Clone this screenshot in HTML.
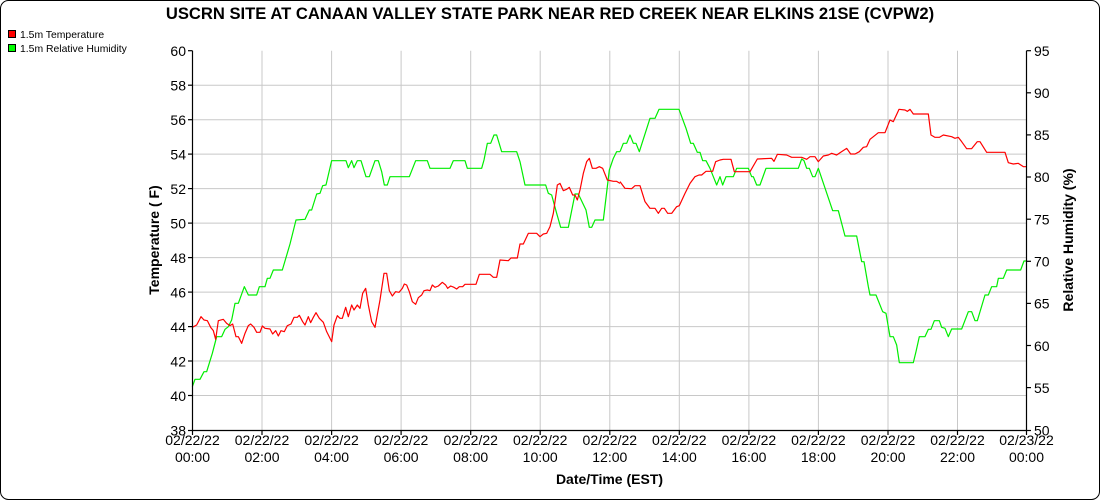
<!DOCTYPE html>
<html><head><meta charset="utf-8"><style>
html,body{margin:0;padding:0;background:#fff}
svg{display:block;font-family:"Liberation Sans",sans-serif}
</style></head><body>
<svg width="1100" height="500" viewBox="0 0 1100 500" xmlns="http://www.w3.org/2000/svg">
<rect x="0.5" y="0.5" width="1099" height="499" rx="8" fill="#fff" stroke="#000" stroke-width="1"/>
<text x="550" y="19" text-anchor="middle" font-size="16.6" font-weight="bold">USCRN SITE AT CANAAN VALLEY STATE PARK NEAR RED CREEK NEAR ELKINS 21SE (CVPW2)</text>
<rect x="8.5" y="30.5" width="7" height="7" fill="#f00" stroke="#000"/>
<text x="20" y="38" font-size="10.4">1.5m Temperature</text>
<rect x="8.5" y="44.5" width="7" height="7" fill="#0f0" stroke="#000"/>
<text x="20" y="52" font-size="10.4">1.5m Relative Humidity</text>
<g stroke="#c8c8c8" stroke-width="1">
<line x1="262" y1="50.7" x2="262" y2="430"/><line x1="331.6" y1="50.7" x2="331.6" y2="430"/><line x1="401.1" y1="50.7" x2="401.1" y2="430"/><line x1="470.7" y1="50.7" x2="470.7" y2="430"/><line x1="540.2" y1="50.7" x2="540.2" y2="430"/><line x1="609.8" y1="50.7" x2="609.8" y2="430"/><line x1="679.3" y1="50.7" x2="679.3" y2="430"/><line x1="748.9" y1="50.7" x2="748.9" y2="430"/><line x1="818.4" y1="50.7" x2="818.4" y2="430"/><line x1="888" y1="50.7" x2="888" y2="430"/><line x1="957.5" y1="50.7" x2="957.5" y2="430"/>
<line x1="192.5" y1="85.2" x2="1026.5" y2="85.2"/><line x1="192.5" y1="119.7" x2="1026.5" y2="119.7"/><line x1="192.5" y1="154.1" x2="1026.5" y2="154.1"/><line x1="192.5" y1="188.6" x2="1026.5" y2="188.6"/><line x1="192.5" y1="223.1" x2="1026.5" y2="223.1"/><line x1="192.5" y1="257.6" x2="1026.5" y2="257.6"/><line x1="192.5" y1="292.1" x2="1026.5" y2="292.1"/><line x1="192.5" y1="326.6" x2="1026.5" y2="326.6"/><line x1="192.5" y1="361" x2="1026.5" y2="361"/><line x1="192.5" y1="395.5" x2="1026.5" y2="395.5"/>
</g>
<g fill="none" stroke-width="1.2" stroke-linejoin="round">
<g transform="translate(180,40) scale(0.33333)">
<polyline vector-effect="non-scaling-stroke" stroke="#00ee00" points="37,1040 45,1018 60,1018 72,995 80,995 97,940 110,890 125,890 135,868 145,860 155,840 165,790 175,790 193,740 205,765 230,765 238,740 255,740 262,715 270,715 280,690 307,690 330,612 348,540 375,538 388,510 395,510 410,462 420,460 428,437 438,435 455,362 498,362 505,383 515,362 522,383 532,362 543,362 558,410 568,410 585,362 595,362 605,395 613,435 622,435 630,410 688,410 707,362 742,362 750,385 810,385 820,362 855,362 862,385 905,385 912,360 922,310 932,310 942,285 950,285 965,335 1010,335 1020,365 1035,435 1097,435 1105,460 1115,465 1130,520 1142,562 1165,562 1185,462 1195,462 1218,510 1228,562 1235,562 1245,540 1270,540 1288,390 1300,355 1310,335 1320,335"/>
<polyline vector-effect="non-scaling-stroke" stroke="#ff0000" points="37,862 50,855 63,830 72,840 82,842 92,862 100,872 107,898 115,842 130,838 140,850 150,857 158,852 168,890 175,890 185,910 195,880 205,857 212,852 222,862 230,877 240,877 247,858 255,865 270,867 278,882 287,872 295,888 303,872 313,875 322,857 333,852 342,832 352,832 358,826 368,845 375,855 385,830 392,848 400,832 408,818 418,835 430,847 440,875 455,905 462,855 472,827 480,835 487,835 497,802 505,830 515,795 522,810 532,795 540,805 548,760 557,745 565,795 575,845 585,862 600,780 612,700 620,700 628,752 637,768 647,755 657,757 667,745 673,732 680,735 688,755 697,785 707,793 715,773 725,765 732,752 742,750 750,752 757,735 765,742 775,738 787,727 797,735 803,745 812,738 822,742 830,747 838,740 848,740 855,733 870,733 888,733 898,703 930,703 940,712 950,712 960,660 985,662 993,654 1012,654 1020,612 1030,612 1045,580 1070,580 1080,590 1090,582 1100,580 1110,560 1120,520 1132,435 1140,430 1150,452 1160,448 1168,442 1178,465 1185,465 1192,480 1200,450 1210,400 1220,365 1228,355 1237,385 1248,385 1258,380 1268,385 1282,420 1300,424 1310,424 1320,430"/>
</g>
<g transform="translate(600,40) scale(0.33333)">
<polyline vector-effect="non-scaling-stroke" stroke="#00ee00" points="60,335 70,310 80,310 90,285 100,310 108,310 118,335 150,235 165,235 177,208 237,208 258,265 272,310 280,310 292,337 300,337 308,362 318,362 330,385 340,410 350,435 360,410 368,435 378,410 400,410 410,385 445,385 455,410 460,410 470,435 480,435 498,385 595,385 605,357 612,362 620,385 628,385 638,410 645,410 655,385 698,512 715,512 735,588 770,588 785,665 792,665 805,740 810,765 828,765 848,815 858,820 870,890 880,890 890,915 898,968 940,968 948,935 958,890 975,890 985,868 993,868 1003,842 1018,842 1025,862 1035,865 1045,890 1055,867 1085,867 1105,815 1115,815 1125,842 1132,842 1155,765 1165,765 1175,740 1190,740 1195,715 1210,715 1220,690 1262,690 1272,663 1279,663"/>
<polyline vector-effect="non-scaling-stroke" stroke="#ff0000" points="60,425 75,445 95,446 105,437 120,437 135,485 150,505 165,505 175,520 185,505 193,505 203,520 215,520 230,500 238,497 255,460 270,430 285,410 297,405 305,405 318,394 338,394 347,365 360,360 370,358 393,358 403,395 450,395 472,357 515,355 522,364 532,343 560,345 575,352 605,352 620,358 630,350 645,350 655,365 670,348 685,345 695,340 710,345 725,335 740,325 752,342 765,342 778,335 790,322 800,320 810,298 820,290 835,278 855,278 870,240 880,245 897,208 915,210 922,214 930,208 940,222 985,222 993,285 1005,292 1018,292 1030,285 1055,290 1065,295 1075,292 1085,305 1100,326 1115,326 1132,305 1140,305 1160,337 1215,337 1225,368 1240,372 1255,370 1270,380 1279,380"/>
</g>
</g>
<g stroke="#000" stroke-width="1.2" fill="none">
<polyline points="192.5,50.7 192.5,430.5 1026.5,430.5 1026.5,50.7"/>
<line x1="188" y1="50.7" x2="192.5" y2="50.7"/><line x1="188" y1="85.2" x2="192.5" y2="85.2"/><line x1="188" y1="119.7" x2="192.5" y2="119.7"/><line x1="188" y1="154.1" x2="192.5" y2="154.1"/><line x1="188" y1="188.6" x2="192.5" y2="188.6"/><line x1="188" y1="223.1" x2="192.5" y2="223.1"/><line x1="188" y1="257.6" x2="192.5" y2="257.6"/><line x1="188" y1="292.1" x2="192.5" y2="292.1"/><line x1="188" y1="326.6" x2="192.5" y2="326.6"/><line x1="188" y1="361" x2="192.5" y2="361"/><line x1="188" y1="395.5" x2="192.5" y2="395.5"/><line x1="188" y1="430.5" x2="192.5" y2="430.5"/>
<line x1="1026.5" y1="50.7" x2="1031" y2="50.7"/><line x1="1026.5" y1="92.8" x2="1031" y2="92.8"/><line x1="1026.5" y1="134.9" x2="1031" y2="134.9"/><line x1="1026.5" y1="177" x2="1031" y2="177"/><line x1="1026.5" y1="219.2" x2="1031" y2="219.2"/><line x1="1026.5" y1="261.3" x2="1031" y2="261.3"/><line x1="1026.5" y1="303.4" x2="1031" y2="303.4"/><line x1="1026.5" y1="345.5" x2="1031" y2="345.5"/><line x1="1026.5" y1="387.6" x2="1031" y2="387.6"/><line x1="1026.5" y1="430.5" x2="1031" y2="430.5"/>
<line x1="192.5" y1="430.5" x2="192.5" y2="435"/><line x1="262" y1="430.5" x2="262" y2="435"/><line x1="331.6" y1="430.5" x2="331.6" y2="435"/><line x1="401.1" y1="430.5" x2="401.1" y2="435"/><line x1="470.7" y1="430.5" x2="470.7" y2="435"/><line x1="540.2" y1="430.5" x2="540.2" y2="435"/><line x1="609.8" y1="430.5" x2="609.8" y2="435"/><line x1="679.3" y1="430.5" x2="679.3" y2="435"/><line x1="748.9" y1="430.5" x2="748.9" y2="435"/><line x1="818.4" y1="430.5" x2="818.4" y2="435"/><line x1="888" y1="430.5" x2="888" y2="435"/><line x1="957.5" y1="430.5" x2="957.5" y2="435"/><line x1="1026.5" y1="430.5" x2="1026.5" y2="435"/>
</g>
<g font-size="14" text-anchor="end">
<text x="186" y="56">60</text><text x="186" y="90.5">58</text><text x="186" y="125">56</text><text x="186" y="159.5">54</text><text x="186" y="194">52</text><text x="186" y="228.5">50</text><text x="186" y="263">48</text><text x="186" y="297.5">46</text><text x="186" y="332">44</text><text x="186" y="366.5">42</text><text x="186" y="401">40</text><text x="186" y="435.5">38</text>
</g>
<g font-size="14">
<text x="1034" y="56">95</text><text x="1034" y="98">90</text><text x="1034" y="140">85</text><text x="1034" y="182">80</text><text x="1034" y="224.5">75</text><text x="1034" y="266.5">70</text><text x="1034" y="308.5">65</text><text x="1034" y="351">60</text><text x="1034" y="393">55</text><text x="1034" y="435.5">50</text>
</g>
<g font-size="14" text-anchor="middle">
<text x="192.5" y="445">02/22/22</text><text x="192.5" y="462">00:00</text>
<text x="262" y="445">02/22/22</text><text x="262" y="462">02:00</text>
<text x="331.6" y="445">02/22/22</text><text x="331.6" y="462">04:00</text>
<text x="401.1" y="445">02/22/22</text><text x="401.1" y="462">06:00</text>
<text x="470.7" y="445">02/22/22</text><text x="470.7" y="462">08:00</text>
<text x="540.2" y="445">02/22/22</text><text x="540.2" y="462">10:00</text>
<text x="609.8" y="445">02/22/22</text><text x="609.8" y="462">12:00</text>
<text x="679.3" y="445">02/22/22</text><text x="679.3" y="462">14:00</text>
<text x="748.9" y="445">02/22/22</text><text x="748.9" y="462">16:00</text>
<text x="818.4" y="445">02/22/22</text><text x="818.4" y="462">18:00</text>
<text x="888" y="445">02/22/22</text><text x="888" y="462">20:00</text>
<text x="957.5" y="445">02/22/22</text><text x="957.5" y="462">22:00</text>
<text x="1026.5" y="445">02/23/22</text><text x="1026.5" y="462">00:00</text>
</g>
<text x="609.5" y="484" font-size="14" font-weight="bold" text-anchor="middle">Date/Time (EST)</text>
<text transform="translate(159,240) rotate(-90)" font-size="14" font-weight="bold" text-anchor="middle">Temperature ( F)</text>
<text transform="translate(1073,240) rotate(-90)" font-size="14" font-weight="bold" text-anchor="middle">Relative Humidity (%)</text>
</svg>
</body></html>
